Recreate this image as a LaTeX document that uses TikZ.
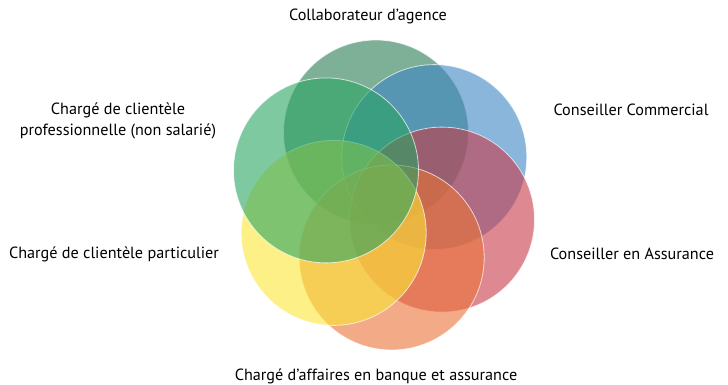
\documentclass[tikz,border=0pt]{standalone}
\usepackage{fontspec}
\setmainfont{PT Sans}
\usepackage{tikz}

\definecolor{agence}{RGB}{40,123,83}
\definecolor{commercial}{RGB}{62,133,195}
\definecolor{assurance}{RGB}{200,58,72}
\definecolor{affaires}{RGB}{235,115,55}
\definecolor{particulier}{RGB}{250,230,53}
\definecolor{pro}{RGB}{42,165,98}

\begin{document}
\begin{tikzpicture}[x=1pt,y=-1pt,
    main/.style = {circle, minimum size=185pt, inner sep=0pt, fill opacity=0.6,
                   draw=white, draw opacity=0.7, line width=0.8pt},
    lbl/.style = {font=\fontsize{16.2}{21}\selectfont, inner sep=0pt, align=center}]
    \useasboundingbox (0,0) rectangle (728,385);
    % circles
    \node[main, fill=agence] (1) at (376,132.5) {};
    \node[main, fill=commercial] (2) at (434.3,157.1) {};
    \node[main, fill=assurance] (3) at (442,219.6) {};
    \node[main, fill=affaires] (4) at (391.7,257.5) {};
    \node[main, fill=particulier] (5) at (333.7,232.9) {};
    \node[main, fill=pro] (6) at (326,170.4) {};
    % labels
    \node[lbl] (a) at (368,16) {Collaborateur d’agence};
    \node[lbl] (b) at (631,110) {Conseiller Commercial};
    \node[lbl] (c) at (632,254) {Conseiller en Assurance};
    \node[lbl] (d) at (376,376) {Chargé d’affaires en banque et assurance};
    \node[lbl] (e) at (114,254) {Chargé de clientèle particulier};
    \node[lbl] (f) at (118,120.5) {Chargé de clientèle\\professionnelle (non salarié)};
\end{tikzpicture}
\end{document}
